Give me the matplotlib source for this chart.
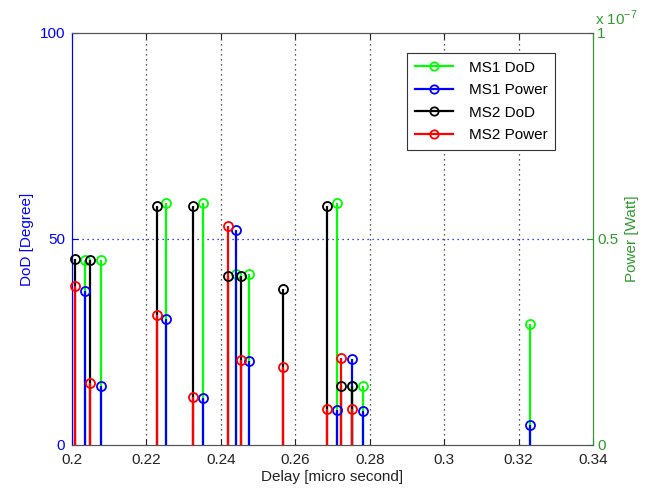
import matplotlib
matplotlib.use('Agg')
import matplotlib.pyplot as plt
from matplotlib.lines import Line2D
from matplotlib.legend_handler import HandlerLine2D
from matplotlib.ticker import FuncFormatter

plt.rcParams['font.family'] = ['Liberation Sans', 'DejaVu Sans']
plt.rcParams['mathtext.fontset'] = 'custom'
plt.rcParams['mathtext.rm'] = 'Liberation Sans'

# MS1 path delays [micro second], DoD [degree], power [W]
ms1_delay = [0.2035, 0.2078, 0.2253, 0.2351, 0.2441, 0.2475, 0.2712, 0.2753, 0.2781, 0.3232]
ms1_dod = [45.0, 45.0, 58.7, 58.7, 41.4, 41.4, 58.7, 14.3, 14.3, 29.4]
ms1_power = [0.374e-7, 0.143e-7, 0.306e-7, 0.113e-7, 0.522e-7, 0.204e-7, 0.085e-7, 0.208e-7, 0.0825e-7, 0.049e-7]

# MS2
ms2_delay = [0.2007, 0.2049, 0.2228, 0.2324, 0.2418, 0.2453, 0.2568, 0.2686, 0.2722, 0.2753]
ms2_dod = [45.1, 45.0, 58.1, 58.1, 40.9, 40.9, 37.9, 58.1, 14.3, 14.3]
ms2_power = [0.386e-7, 0.150e-7, 0.316e-7, 0.1165e-7, 0.532e-7, 0.206e-7, 0.190e-7, 0.088e-7, 0.210e-7, 0.087e-7]

series_names = ['MS1 DoD', 'MS1 Power', 'MS2 DoD', 'MS2 Power']
series_colors = ['#00ff00', '#0000ff', '#000000', '#ff0000']

left_col = '#0000ff'
right_col = '#2e9a2e'
frame_col = '#555555'
fs = 11

dod_max = 100.0
power_max = 1e-7


class StemHandler(HandlerLine2D):
    # put the circle at the right end, like matlab does
    def get_xdata(self, legend, xdescent, ydescent, width, height, fontsize):
        xdata, _ = super().get_xdata(legend, xdescent, ydescent, width, height, fontsize)
        return xdata, [xdata[-1]]


def draw_stems(ax, x, y, color):
    for xi, yi in zip(x, y):
        ax.plot([xi, xi], [0, yi], color=color, lw=1.6, solid_capstyle='butt', zorder=3)
    ax.plot(x, y, ls='none', marker='o', ms=6.5, mfc='none', mec=color, mew=1.3,
            zorder=4, clip_on=False)


fig = plt.figure(figsize=(6.6, 4.91), dpi=100)
ax = fig.add_axes([0.109, 0.0937, 0.7895, 0.8391])
ax2 = ax.twinx()

ax.set_xlim(0.2, 0.34)
ax.set_ylim(0, dod_max)
ax2.set_ylim(0, power_max)

# grid
for xv in [0.22, 0.24, 0.26, 0.28, 0.30, 0.32]:
    ax.axvline(xv, color='#222222', ls=(0, (1, 3)), lw=0.9, zorder=1)
ax.axhline(50, color=left_col, ls=(0, (1, 3)), lw=0.9, zorder=1)

# draw order: MS1 DoD, MS1 Power, MS2 DoD, MS2 Power
# MS2 DoD goes on the power axes (rescaled) so it sits on top of MS1 Power
draw_stems(ax, ms1_delay, ms1_dod, series_colors[0])
draw_stems(ax2, ms1_delay, ms1_power, series_colors[1])
draw_stems(ax2, ms2_delay, [v / dod_max * power_max for v in ms2_dod], series_colors[2])
draw_stems(ax2, ms2_delay, ms2_power, series_colors[3])

ax.set_xticks([0.2, 0.22, 0.24, 0.26, 0.28, 0.3, 0.32, 0.34])
ax.set_xticklabels(['0.2', '0.22', '0.24', '0.26', '0.28', '0.3', '0.32', '0.34'])
ax.set_yticks([0, 50, 100])
ax2.set_yticks([0, 0.5e-7, 1e-7])
ax2.yaxis.set_major_formatter(FuncFormatter(lambda v, p: '%g' % round(v * 1e7, 3)))

ax.tick_params(axis='x', direction='in', top=True, length=4, labelsize=fs,
               colors='#222222', pad=6)
ax.tick_params(axis='y', direction='in', length=4, labelsize=fs, colors=left_col, pad=5)
ax2.tick_params(axis='y', direction='in', length=4, labelsize=fs, colors=right_col, pad=3)

for a in (ax, ax2):
    a.spines['top'].set_color(frame_col)
    a.spines['bottom'].set_color(frame_col)
ax.spines['left'].set_color(left_col)
ax2.spines['left'].set_color(left_col)
ax.spines['right'].set_color(right_col)
ax2.spines['right'].set_color(right_col)

ax.set_xlabel('Delay [micro second]', fontsize=fs, color='#222222', labelpad=2)
ax.set_ylabel('DoD [Degree]', fontsize=fs, color=left_col, labelpad=4)
ax2.set_ylabel('Power [Watt]', fontsize=fs, color=right_col, labelpad=5)
ax2.text(1.004, 1.02, r'x 10$^{\mathrm{-7}}$', transform=ax2.transAxes, fontsize=fs,
         color=right_col, ha='left', va='baseline')

handles = [Line2D([], [], color=c, lw=1.6, marker='o', ms=6, mfc='none', mec=c, mew=1.3)
           for c in series_colors]
leg = ax2.legend(handles, series_names, loc='upper right', bbox_to_anchor=(0.927, 0.951),
                 fontsize=fs, handlelength=2.5, handletextpad=1.0, labelspacing=0.55,
                 borderpad=0.5, borderaxespad=0, fancybox=False, framealpha=1,
                 edgecolor='#333333', handler_map={Line2D: StemHandler(numpoints=1)})
leg.get_frame().set_linewidth(0.8)
leg.set_zorder(10)

fig.savefig('out.png', dpi=100)
